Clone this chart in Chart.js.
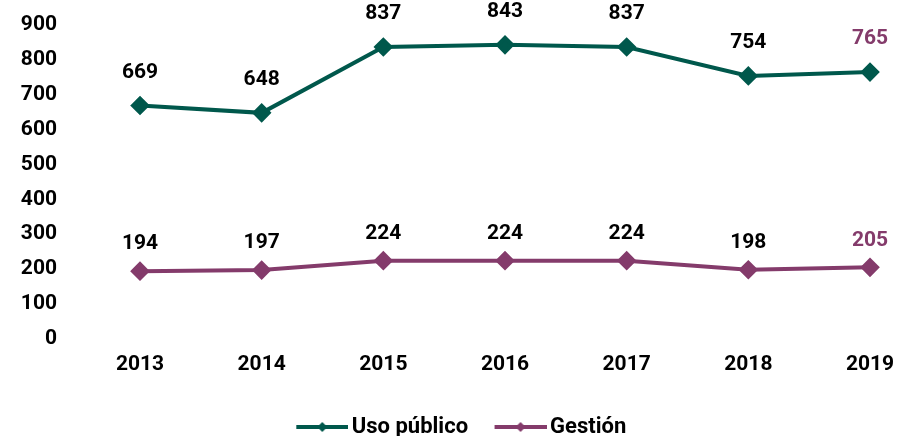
<!DOCTYPE html>
<html>
<head>
<meta charset="utf-8">
<script src="https://cdn.jsdelivr.net/npm/chart.js@4/dist/chart.umd.min.js"></script>
<style>
  html, body { margin: 0; padding: 0; background: #fff; }
  #wrap { width: 898px; height: 436px; }
</style>
</head>
<body>
<div id="wrap"><canvas id="chart" width="898" height="436"></canvas></div>
<script>
// data
const years = ["2013", "2014", "2015", "2016", "2017", "2018", "2019"];
const usoPublico = [669, 648, 837, 843, 837, 754, 765];
const gestion = [194, 197, 224, 224, 224, 198, 205];
const yTicks = [0, 100, 200, 300, 400, 500, 600, 700, 800, 900];

const teal = "#00584c";
const purple = "#843b6b";
const font = "Roboto";
const fontSize = 21;
const labelLift = [33, 27]; // px above the point, per series

// legend marker: line with a diamond, pushed to the right so it sits close to the text
function legendMarker(color) {
    const c = document.createElement("canvas");
    c.width = 60;
    c.height = 14;
    const ctx = c.getContext("2d");
    ctx.strokeStyle = color;
    ctx.lineWidth = 4;
    ctx.beginPath();
    ctx.moveTo(8, 7);
    ctx.lineTo(60, 7);
    ctx.stroke();
    ctx.fillStyle = color;
    ctx.beginPath();
    ctx.moveTo(34, 2);
    ctx.lineTo(39, 7);
    ctx.lineTo(34, 12);
    ctx.lineTo(29, 7);
    ctx.closePath();
    ctx.fill();
    return c;
}

// value labels above each point, the last one in the series colour
const valueLabels = {
    id: "valueLabels",
    afterLayout(chart) {
        // legend sits a bit right of the canvas centre
        chart.legend.left += 21;
        chart.legend.right += 21;
    },
    afterDatasetsDraw(chart) {
        const ctx = chart.ctx;
        ctx.save();
        ctx.font = "bold " + fontSize + "px " + font;
        ctx.textAlign = "center";
        ctx.textBaseline = "middle";
        chart.data.datasets.forEach((ds, i) => {
            const meta = chart.getDatasetMeta(i);
            meta.data.forEach((pt, j) => {
                const last = j === ds.data.length - 1;
                ctx.fillStyle = last ? purple : "#000";
                ctx.fillText(ds.data[j], pt.x, pt.y - labelLift[i]);
            });
        });
        ctx.restore();
    }
};

new Chart(document.getElementById("chart"), {
    type: "line",
    data: {
        labels: years,
        datasets: [
            {
                label: "Uso público",
                data: usoPublico,
                borderColor: teal,
                backgroundColor: teal,
                borderWidth: 4,
                pointStyle: "rectRot",
                pointRadius: 7,
                pointHoverRadius: 7,
                tension: 0
            },
            {
                label: "Gestión",
                data: gestion,
                borderColor: purple,
                backgroundColor: purple,
                borderWidth: 4,
                pointStyle: "rectRot",
                pointRadius: 7,
                pointHoverRadius: 7,
                tension: 0
            }
        ]
    },
    options: {
        responsive: false,
        animation: false,
        layout: { padding: { left: 10, right: 28, top: 25, bottom: -12 } },
        plugins: {
            tooltip: { enabled: false },
            legend: {
                position: "bottom",
                labels: {
                    color: "#000",
                    font: { family: font, size: 22, weight: "bold" },
                    usePointStyle: true,
                    pointStyleWidth: 45,
                    padding: 26,
                    generateLabels(chart) {
                        return chart.data.datasets.map((ds, i) => ({
                            text: ds.label,
                            pointStyle: legendMarker(ds.borderColor),
                            fillStyle: ds.borderColor,
                            strokeStyle: ds.borderColor,
                            lineWidth: 0,
                            fontColor: "#000",
                            datasetIndex: i,
                            hidden: false
                        }));
                    }
                }
            }
        },
        scales: {
            x: {
                offset: false,
                grid: { display: false, drawTicks: false },
                border: { display: false },
                afterFit(scale) {
                    scale.paddingLeft = 0;
                    scale.paddingRight = 0;
                },
                ticks: {
                    color: "#000",
                    padding: 13,
                    maxRotation: 0,
                    font: { family: font, size: fontSize, weight: "bold" }
                }
            },
            y: {
                min: 0,
                max: 900,
                grid: { display: false, drawTicks: false },
                border: { display: false },
                afterFit(scale) {
                    scale.width = 130;
                    // the big tick padding should not push the chart area down
                    scale.paddingTop = 0;
                    scale.paddingBottom = 0;
                },
                afterBuildTicks(scale) { scale.ticks = yTicks.map(v => ({ value: v })); },
                ticks: {
                    color: "#000",
                    padding: 83,
                    font: { family: font, size: fontSize, weight: "bold" }
                }
            }
        }
    },
    plugins: [valueLabels]
});
</script>
</body>
</html>
